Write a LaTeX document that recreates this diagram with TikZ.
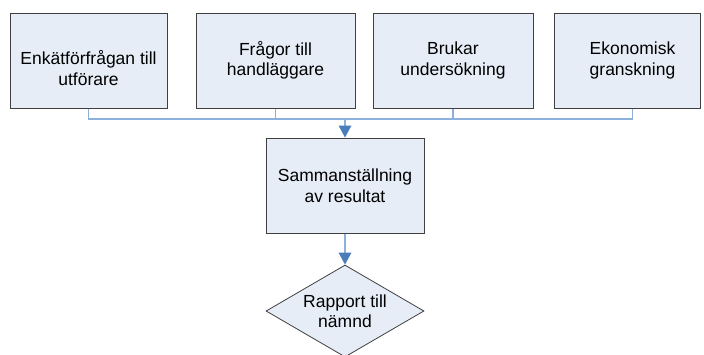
\documentclass[tikz,border=0pt]{standalone}
\usepackage{fontspec}
\setmainfont{Liberation Sans}
\usetikzlibrary{shapes.geometric,arrows.meta}
\definecolor{boxfill}{HTML}{E6EDF7}
\definecolor{boxline}{HTML}{404040}
\definecolor{conn}{HTML}{8EB0DC}
\definecolor{tipc}{HTML}{4A7EBB}
\tikzset{
  box/.style={draw=boxline, fill=boxfill, line width=1pt, rectangle, minimum height=95pt, inner sep=0pt},
  txt/.style={align=center, font=\fontsize{17.5}{20.5}\selectfont, inner sep=0pt},
  dia/.style={draw=boxline, fill=boxfill, line width=0.8pt, diamond, shape aspect=1.72, minimum width=158pt, minimum height=92pt, inner sep=0pt},
  conline/.style={draw=conn, line width=1.1pt},
  arr/.style={conline, -{Triangle[length=12pt,width=13pt,fill=tipc,color=tipc,line width=0pt]}},
}
\begin{document}
\begin{tikzpicture}[x=1pt,y=-1pt]
\useasboundingbox (0,0) rectangle (704,354);
\node[box, minimum width=157pt, label={[txt,yshift=-7.5pt]center:Enkätförfrågan till\\utförare}] (b1) at (88.5,60.5) {};
\node[box, minimum width=159pt, txt] (b2) at (275.5,60.5) {Frågor till\\handläggare};
\node[box, minimum width=160pt, txt] (b3) at (453,60.5) {Brukar\\undersökning};
\node[box, minimum width=146pt, label={[txt,xshift=5.5pt]center:Ekonomisk\\granskning}] (b4) at (627,60.5) {};
\node[box, minimum width=158pt, txt] (m) at (345,185.5) {Sammanställning\\av resultat};
\node[dia, txt] (r) at (345,311) {Rapport till\\nämnd};
\coordinate (bus) at (345,119);
\coordinate (b4c) at ([xshift=5.5pt]b4.south);
\draw[conline] (b1.south) |- (bus);
\draw[conline] (b2.south) |- (bus);
\draw[conline] (b3.south) |- (bus);
\draw[conline] (b4c) |- (bus);
\draw[arr] (bus) -- (m.north);
\draw[arr] (m.south) -- (r.north);
\end{tikzpicture}
\end{document}
